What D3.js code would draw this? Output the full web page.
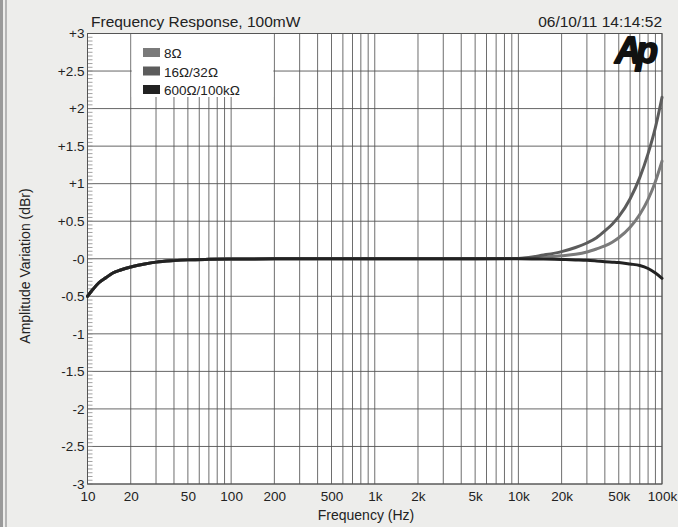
<!DOCTYPE html>
<html>
<head>
<meta charset="utf-8">
<script src="https://cdn.jsdelivr.net/npm/d3@7"></script>
<style>
  body { margin: 0; background: #ededeb; }
  svg { display: block; font-family: 'Liberation Sans', Arial, sans-serif; }
</style>
</head>
<body>
<svg></svg>
<script>
// data
let freqs   = [10, 11, 12, 13.5, 15, 17, 20, 25, 30, 40, 50, 70, 100, 200, 500, 1000, 2000, 5000, 10000, 15000, 20000, 25000, 30000, 35000, 40000, 45000, 50000, 60000, 70000, 80000, 90000, 100000]
let ohm8    = [-0.5, -0.4, -0.32, -0.25, -0.19, -0.15, -0.11, -0.07, -0.045, -0.025, -0.015, -0.008, -0.004, 0, 0, 0, 0, 0, 0.005, 0.02, 0.04, 0.06, 0.09, 0.13, 0.17, 0.22, 0.28, 0.42, 0.59, 0.79, 1.03, 1.3]
let ohm16   = [-0.5, -0.4, -0.32, -0.25, -0.19, -0.15, -0.11, -0.07, -0.045, -0.025, -0.015, -0.008, -0.004, 0, 0, 0, 0, 0, 0.005, 0.05, 0.095, 0.15, 0.21, 0.28, 0.37, 0.46, 0.56, 0.8, 1.08, 1.4, 1.75, 2.15]
let ohm600  = [-0.5, -0.4, -0.32, -0.25, -0.19, -0.15, -0.11, -0.07, -0.045, -0.025, -0.015, -0.008, -0.004, 0, 0, 0, 0, 0, 0, -0.005, -0.01, -0.015, -0.02, -0.03, -0.04, -0.045, -0.05, -0.07, -0.09, -0.13, -0.19, -0.26]

let seriesNames  = ['8\u03A9', '16\u03A9/32\u03A9', '600\u03A9/100k\u03A9']
let seriesValues = [ohm8, ohm16, ohm600]
let seriesColors = ['#7a7a7a', '#5c5c5c', '#222222']

let xTickValues = [10, 20, 50, 100, 200, 500, 1000, 2000, 5000, 10000, 20000, 50000, 100000]
let xTickLabels = ['10', '20', '50', '100', '200', '500', '1k', '2k', '5k', '10k', '20k', '50k', '100k']
let yTickValues = [3, 2.5, 2, 1.5, 1, 0.5, 0, -0.5, -1, -1.5, -2, -2.5, -3]
let yTickLabels = ['+3', '+2.5', '+2', '+1.5', '+1', '+0.5', '-0', '-0.5', '-1', '-1.5', '-2', '-2.5', '-3']

let width = 678
let height = 527
let plotLeft = 87.5, plotRight = 662, plotTop = 33.5, plotBottom = 484

let svg = d3.select('svg').attr('width', width).attr('height', height)

let xScale = d3.scaleLog().domain([10, 100000]).range([plotLeft, plotRight])
let yScale = d3.scaleLinear().domain([-3, 3]).range([plotBottom, plotTop])

// scanned page edge on the left
svg.append('rect').attr('x', 0).attr('y', 0).attr('width', 3).attr('height', height).attr('fill', '#9a9a9a')
svg.append('rect').attr('x', 5).attr('y', 0).attr('width', 2).attr('height', height).attr('fill', '#b5b5b5')

// plot background
svg.append('rect')
  .attr('x', plotLeft).attr('y', plotTop)
  .attr('width', plotRight - plotLeft).attr('height', plotBottom - plotTop)
  .attr('fill', '#fff')

// log grid: every 1..9 step in each decade
let gridFreqs = []
for (let d = 10; d < 100000; d *= 10) {
  for (let k = 1; k < 10; k++) gridFreqs.push(d * k)
}
gridFreqs.push(100000)

svg.append('g').selectAll('line')
  .data(gridFreqs)
  .enter().append('line')
  .attr('x1', d => xScale(d)).attr('x2', d => xScale(d))
  .attr('y1', plotTop).attr('y2', plotBottom)
  .attr('stroke', '#5e5e5e').attr('stroke-width', 0.9)

svg.append('g').selectAll('line')
  .data(yTickValues)
  .enter().append('line')
  .attr('x1', plotLeft).attr('x2', plotRight)
  .attr('y1', d => yScale(d)).attr('y2', d => yScale(d))
  .attr('stroke', '#555').attr('stroke-width', 0.9)

// legend box covers the grid
svg.append('rect')
  .attr('x', xScale(20) + 1).attr('y', plotTop + 0.5)
  .attr('width', xScale(200) - xScale(20) - 2).attr('height', 63)
  .attr('fill', '#fff')

// minor ticks on the y axis
svg.append('g').selectAll('line')
  .data(d3.range(-3, 3.001, 0.05))
  .enter().append('line')
  .attr('x1', plotLeft).attr('x2', plotLeft + 5)
  .attr('y1', d => yScale(d)).attr('y2', d => yScale(d))
  .attr('stroke', '#8a8a8a').attr('stroke-width', 0.8)

// frame
svg.append('rect')
  .attr('x', plotLeft).attr('y', plotTop)
  .attr('width', plotRight - plotLeft).attr('height', plotBottom - plotTop)
  .attr('fill', 'none').attr('stroke', '#555').attr('stroke-width', 1)

// axes labels via d3 axes, lines hidden
let xAxis = d3.axisBottom(xScale).tickValues(xTickValues)
  .tickFormat((d, i) => xTickLabels[i]).tickSize(0).tickPadding(7)
let gx = svg.append('g').attr('transform', `translate(0,${plotBottom})`).call(xAxis)
gx.select('.domain').remove()
gx.selectAll('text').attr('font-size', 13.5).attr('fill', '#222').attr('font-family', 'Liberation Sans, Arial, sans-serif')

let yAxis = d3.axisLeft(yScale).tickValues(yTickValues)
  .tickFormat((d, i) => yTickLabels[i]).tickSize(0).tickPadding(3)
let gy = svg.append('g').attr('transform', `translate(${plotLeft},0)`).call(yAxis)
gy.select('.domain').remove()
gy.selectAll('text').attr('font-size', 13.5).attr('fill', '#222').attr('font-family', 'Liberation Sans, Arial, sans-serif')

// curves
let line = d3.line()
  .x((d, i) => xScale(freqs[i]))
  .y(d => yScale(d))
  .curve(d3.curveMonotoneX)

svg.append('g').selectAll('path')
  .data(seriesValues)
  .enter().append('path')
  .attr('d', d => line(d))
  .attr('fill', 'none')
  .attr('stroke', (d, i) => seriesColors[i])
  .attr('stroke-width', 3)
  .attr('stroke-linecap', 'round')

// legend
let legend = svg.append('g').selectAll('g')
  .data(seriesNames)
  .enter().append('g')
  .attr('transform', (d, i) => `translate(143,${48 + i * 18.5})`)

legend.append('rect')
  .attr('width', 17).attr('height', 9)
  .attr('fill', (d, i) => seriesColors[i])

legend.append('text')
  .attr('x', 21).attr('y', 10)
  .attr('font-size', 13.5).attr('fill', '#222')
  .text(d => d)

// titles
svg.append('text')
  .attr('x', 91).attr('y', 27)
  .attr('font-size', 15.5).attr('fill', '#222')
  .text('Frequency Response, 100mW')

svg.append('text')
  .attr('x', plotRight).attr('y', 27)
  .attr('text-anchor', 'end')
  .attr('font-size', 15.5).attr('fill', '#222')
  .text('06/10/11 14:14:52')

svg.append('text')
  .attr('x', 615).attr('y', 63)
  .attr('font-size', 36).attr('font-weight', 'bold').attr('font-style', 'italic')
  .attr('letter-spacing', -5)
  .attr('fill', '#111').attr('stroke', '#111').attr('stroke-width', 1.8)
  .attr('stroke-linejoin', 'round')
  .text('Ap')

svg.append('text')
  .attr('x', 366).attr('y', 520)
  .attr('text-anchor', 'middle')
  .attr('font-size', 14).attr('fill', '#222')
  .text('Frequency (Hz)')

svg.append('text')
  .attr('transform', `translate(30,266) rotate(-90)`)
  .attr('text-anchor', 'middle')
  .attr('font-size', 14).attr('fill', '#222')
  .text('Amplitude Variation (dBr)')
</script>
</body>
</html>
